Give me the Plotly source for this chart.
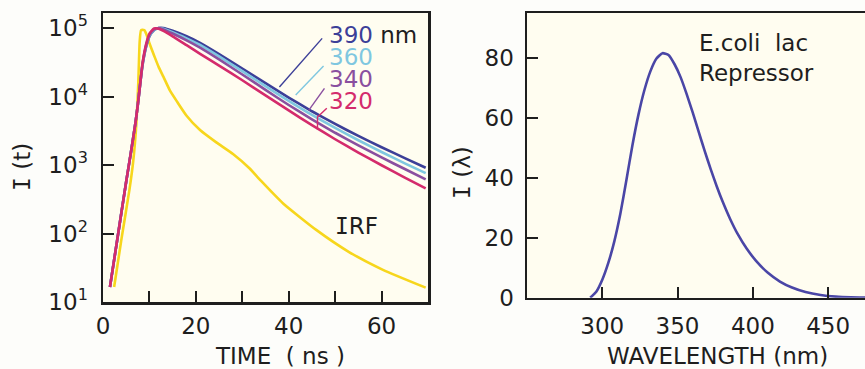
import plotly.graph_objects as go

# ---------------- data ----------------
# Left panel: time-resolved intensity decays, I(t) vs time (ns)
t_fl = [1.5, 3, 5, 6, 7, 7.5, 8, 8.5, 9, 9.5, 10, 11, 12, 13, 15, 18, 21,
        25, 30, 35, 40, 45, 50, 55, 60, 65, 69.5]
I_320 = [16.6, 76, 575, 1510, 4170, 7590, 15100, 30200, 47900, 66100, 83200,
         98800, 97700, 91200, 75900, 56200, 41700, 28300, 17300, 10400, 6270,
         3820, 2380, 1520, 993, 656, 457]
I_340 = [16.6, 76, 575, 1510, 4170, 7590, 15100, 29500, 45700, 63100, 79400,
         95500, 100000, 95500, 83200, 66100, 51300, 34800, 21000, 12500, 7530,
         4650, 2960, 1940, 1290, 875, 617]
I_360 = [16.6, 76, 575, 1510, 4170, 7590, 15100, 28800, 44700, 61700, 77600,
         93300, 100000, 97700, 87100, 70800, 56200, 38500, 23500, 14200, 8630,
         5380, 3480, 2300, 1550, 1060, 762]
I_390 = [16.6, 76, 575, 1510, 4170, 7590, 15100, 28200, 43700, 60300, 75900,
         93300, 100000, 100000, 91200, 75900, 60300, 41700, 25700, 15700, 9660,
         6100, 3980, 2660, 1820, 1260, 912]
t_irf = [2.4, 4, 5.7, 6.5, 7.2, 7.6, 7.9, 8.2, 8.9, 9.4, 10.1, 11, 12, 13,
         14.4, 16, 18, 20.9, 24.4, 28, 31.6, 34, 38.8, 46, 53, 60.3, 69.5]
I_irf = [16.6, 85, 437, 1120, 4170, 15800, 63100, 93300, 93300, 79400, 57500,
         39800, 26900, 19500, 12300, 8320, 5250, 3240, 2140, 1450, 890, 590,
         275, 112, 53.7, 29.5, 16.2]

# label leader lines (t, I) pairs
lead_390_t = [47.2, 38.0]
lead_390_I = [70800, 13800]
lead_360_t = [47.5, 41.5]
lead_360_I = [27900, 10500]
lead_340_t = [47.7, 44.3]
lead_340_I = [13200, 6300]
lead_320_t = [48.2, 46.2, 46.2]
lead_320_I = [6760, 5010, 3300]

wl_labels = ["390", "360", "340", "320"]

# Right panel: emission spectrum I(lambda)
wl = [292, 296, 300, 304, 308, 312, 316, 320, 324, 328, 332, 336, 340, 344,
      348, 352, 356, 360, 364, 368, 372, 376, 380, 385, 390, 396, 402, 410,
      418, 426, 435, 445, 455, 465, 475]
I_wl = [0, 2.0, 6.0, 11.6, 18.8, 28.0, 39.2, 50.8, 61.0, 69.3, 75.6, 79.8,
        81.6, 81.0, 77.9, 73.6, 68.0, 61.9, 55.4, 49.0, 42.9, 37.2, 32.0,
        26.2, 21.2, 16.3, 12.4, 8.3, 5.4, 3.4, 1.9, 0.9, 0.35, 0.1, 0.02]

# ---------------- styling ----------------
W, H = 865, 369
FONT = "DejaVu Sans"
INK = "#1e1e1e"
C390, C360, C340, C320, CIRF = "#3c3f98", "#7fc7e0", "#8a4f9f", "#d42b6c", "#f7d61c"
CSPEC = "#4a46a6"


def fx(x):
    return x / W


def fy(y):
    return 1 - y / H


fig = go.Figure()


def line(x, y, color, width=2.6, xa="x", ya="y", spline=True):
    fig.add_trace(go.Scatter(
        x=x, y=y, mode="lines", xaxis=xa, yaxis=ya, hoverinfo="skip",
        line=dict(color=color, width=width,
                  shape="spline" if spline else "linear", smoothing=0.5),
        showlegend=False))


line(t_irf, I_irf, CIRF)
line(t_fl, I_390, C390)
line(t_fl, I_360, C360)
line(t_fl, I_340, C340)
line(t_fl, I_320, C320)

line(lead_390_t, lead_390_I, C390, 1.4, spline=False)
line(lead_360_t, lead_360_I, C360, 1.4, spline=False)
line(lead_340_t, lead_340_I, C340, 1.4, spline=False)
line(lead_320_t, lead_320_I, C320, 1.4, spline=False)

line(wl, I_wl, CSPEC, 2.6, xa="x2", ya="y2")

axis_common = dict(
    showline=True, linecolor=INK, linewidth=2.5,
    ticks="inside", ticklen=11, tickwidth=2, tickcolor=INK,
    showgrid=False, zeroline=False, automargin=False,
    tickfont=dict(family=FONT, size=23, color=INK),
)
minor_ticks = dict(ticks="inside", ticklen=11, tickwidth=2, tickcolor=INK,
                   showgrid=False)

fig.update_layout(
    template="none",
    width=W, height=H,
    margin=dict(l=0, r=0, t=0, b=0, autoexpand=False),
    paper_bgcolor="#fdfdfa",
    plot_bgcolor="#fffdf0",
    showlegend=False,
    xaxis=dict(domain=[fx(103), fx(428)], range=[0, 70], anchor="y",
               mirror=True, tickvals=[0, 20, 40, 60],
               minor=dict(tickvals=[10, 30, 50], **minor_ticks),
               ticklabelstandoff=2, **axis_common),
    yaxis=dict(domain=[fy(302), fy(13)], type="log", range=[1, 5.22],
               anchor="x", mirror=True,
               tickvals=[10, 100, 1000, 10000, 100000],
               ticktext=["10<sup>1</sup>", "10<sup>2</sup>", "10<sup>3</sup>",
                         "10<sup>4</sup>", "10<sup>5</sup>"],
               ticklabelstandoff=8, **axis_common),
    xaxis2=dict(domain=[fx(527), 1], range=[250, 474.5], anchor="y2",
                mirror=True, tickvals=[300, 350, 400, 450],
                ticklabelstandoff=6, **axis_common),
    yaxis2=dict(domain=[fy(297.7), fy(13)], range=[0, 95], anchor="x2",
                mirror=False, tickvals=[0, 20, 40, 60, 80],
                ticklabelstandoff=6, **axis_common),
)


def note(text, x, y, size=23, color=INK, xanchor="center", angle=0,
         align="center"):
    fig.add_annotation(text=text, x=fx(x), y=fy(y), xref="paper", yref="paper",
                       showarrow=False, xanchor=xanchor, yanchor="middle",
                       textangle=angle, align=align,
                       font=dict(family=FONT, size=size, color=color))


MONO_I = '<span style="font-family:DejaVu Sans Mono">I</span>'

# axis titles
note(MONO_I + " (t)", 22, 167, angle=-90)
note("TIME  ( ns )", 280, 356)
note(MONO_I + " (λ)", 462, 172, angle=-90)
note("WAVELENGTH (nm)", 717, 356)


# series labels: one block, tight line spacing like the reference
def big(txt, color=INK):
    return '<span style="font-size:23px;color:%s">%s</span>' % (color, txt)


label_block = "<br>".join([
    big(wl_labels[0], C390) + big(" nm"),
    big(wl_labels[1], C360),
    big(wl_labels[2], C340),
    big(wl_labels[3], C320),
])
note(label_block, 327, 68, size=17, xanchor="left", align="left")
note(MONO_I + "RF", 333, 226, xanchor="left")

# right panel label
note("E.coli  lac<br>Repressor", 697, 58, xanchor="left", align="left",
     size=23)

fig.write_html("out.html",
               config={"displayModeBar": False, "staticPlot": True},
               post_script="document.body.style.margin='0px';"
                           "document.body.style.overflow='hidden';")
